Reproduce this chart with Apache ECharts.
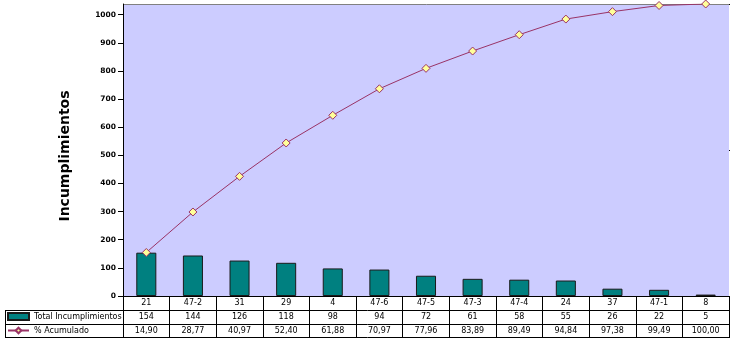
<!DOCTYPE html>
<html><head><meta charset="utf-8">
<script src="https://cdn.jsdelivr.net/npm/echarts@6/dist/echarts.min.js"></script>
<style>html,body{margin:0;padding:0;background:#fff}#c{width:730px;height:338px}</style>
</head><body><div id="c"></div>
<script>
const categories = ['21','47-2','31','29','4','47-6','47-5','47-3','47-4','24','37','47-1','8'];
const totals = [154,144,126,118,98,94,72,61,58,55,26,22,5];
const cumulativePct = [14.90,28.77,40.97,52.40,61.88,70.97,77.96,83.89,89.49,94.84,97.38,99.49,100.00];
const yTicks = [0,100,200,300,400,500,600,700,800,900,1000];
const seriesNames = ['Total Incumplimientos','% Acumulado'];
const axisTitle = 'Incumplimientos';

const FONT = 'DejaVu Sans';
const chart = echarts.init(document.getElementById('c'), null, {renderer:'canvas'});
const fmtPct = v => v.toFixed(2).replace('.', ',');
const rowAxis = (offset, fmt) => ({
  type:'category', data:categories, position:'bottom', offset:offset,
  axisLine:{show:false}, axisTick:{show:false}, splitLine:{show:false},
  axisLabel:{margin:3, fontFamily:FONT, fontSize:8, color:'#000', interval:0, formatter:fmt}
});
chart.setOption({
  animation:false,
  textStyle:{fontFamily:FONT},
  grid:{left:123, top:4, right:1, height:292, show:true, backgroundColor:'#CCCCFF', borderWidth:0},
  legend:{
    orient:'vertical', left:7, top:312, height:40, padding:0, itemWidth:21, itemHeight:7, itemGap:5,
    textStyle:{fontFamily:FONT, fontSize:8, color:'#000', lineHeight:9},
    data:[{name:seriesNames[0], icon:'rect'}, {name:seriesNames[1]}], selectedMode:false
  },
  xAxis:[
    {type:'category', data:categories, position:'bottom',
     axisLine:{show:true, lineStyle:{color:'#000', width:1}},
     axisTick:{show:true, length:42, interval:0, lineStyle:{color:'#000', width:1}},
     axisLabel:{margin:3, fontFamily:FONT, fontSize:8, color:'#000', interval:0}},
    rowAxis(14, (v,i)=>String(totals[i])),
    rowAxis(28, (v,i)=>fmtPct(cumulativePct[i]))
  ],
  yAxis:[
    {type:'value', min:0, max:1038, interval:100,
     name:axisTitle, nameLocation:'middle', nameGap:51,
     nameTextStyle:{fontFamily:FONT, fontSize:14, fontWeight:'bold', color:'#000', padding:[0,0,0,-12]},
     axisLine:{show:true, lineStyle:{color:'#000', width:1}},
     axisTick:{show:true, length:5, lineStyle:{color:'#000'}, customValues:yTicks},
     axisLabel:{margin:7, fontFamily:FONT, fontSize:7.5, fontWeight:'bold', color:'#000', customValues:yTicks,
       formatter:v=>String(v)},
     splitLine:{show:false}},
    {type:'value', min:0, max:100, interval:50, position:'right',
     axisLine:{show:false}, axisLabel:{show:false},
     axisTick:{show:true, length:5, lineStyle:{color:'#000'}}, splitLine:{show:false}}
  ],
  series:[
    {name:seriesNames[0], type:'bar', data:totals, barWidth:'43%',
     itemStyle:{color:'#008080', borderColor:'#1a1a1a', borderWidth:1}},
    {name:seriesNames[1], type:'line', yAxisIndex:1, data:cumulativePct,
     symbol:'diamond', symbolSize:8,
     lineStyle:{color:'#993366', width:1},
     itemStyle:{color:'#FFFF99', borderColor:'#993366', borderWidth:1}}
  ],
  graphic:[
    {type:'line', shape:{x1:123, y1:4.5, x2:730, y2:4.5}, style:{stroke:'#808080', lineWidth:1}},
    {type:'line', shape:{x1:5, y1:310.5, x2:730, y2:310.5}, style:{stroke:'#000', lineWidth:1}},
    {type:'line', shape:{x1:5, y1:324.5, x2:730, y2:324.5}, style:{stroke:'#000', lineWidth:1}},
    {type:'line', shape:{x1:5, y1:337.5, x2:730, y2:337.5}, style:{stroke:'#000', lineWidth:1}},
    {type:'line', shape:{x1:5.5, y1:310, x2:5.5, y2:338}, style:{stroke:'#000', lineWidth:1}}
  ]
});
</script></body></html>
